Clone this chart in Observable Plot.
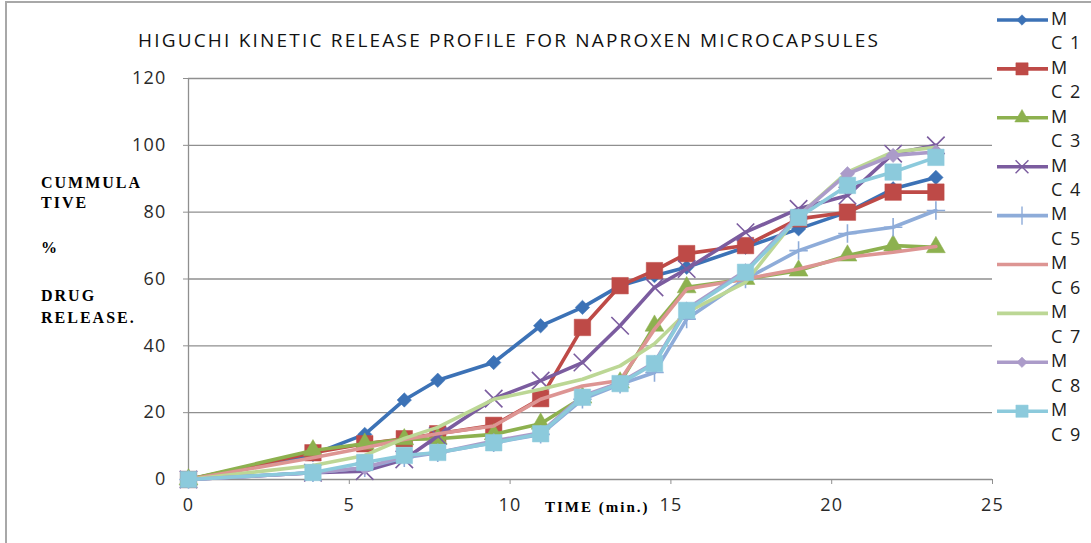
<!DOCTYPE html>
<html><head><meta charset="utf-8">
<script src="https://cdn.jsdelivr.net/npm/d3@7"></script>
<script src="https://cdn.jsdelivr.net/npm/@observablehq/plot@0.6"></script>
<style>
body{margin:0;background:#fff;}
#wrap{position:relative;width:1091px;height:543px;overflow:hidden;background:#fff;}
#frame{position:absolute;left:5px;top:1px;width:1200px;height:700px;border-left:2px solid #a8a8a8;border-top:2px solid #a8a8a8;pointer-events:none;}
#chart{position:absolute;left:0;top:0;}
</style></head><body>
<div id="wrap"><div id="chart"></div><div id="frame"></div></div>
<script>
// Square-root time points (x values)
const time = [0, 3.87, 5.48, 6.71, 7.75, 9.49, 10.95, 12.25, 13.42, 14.49, 15.49, 17.32, 18.97, 20.49, 21.91, 23.24];
const names = ["MC 1","MC 2","MC 3","MC 4","MC 5","MC 6","MC 7","MC 8","MC 9"];
const mc1 = [0, 7.5, 13.5, 23.8, 29.7, 35, 46, 51.5, 58, 61, 63.5, 69.5, 75, 80, 87, 90.4];
const mc2 = [0, 8, 10.7, 12.2, 13.7, 16.2, 24.2, 45.5, 58, 62.5, 67.6, 70, 78, 80, 86, 86];
const mc3 = [0, 8.7, 10.7, 12, 12.2, 13.5, 16.7, 24.5, 29, 46, 57.5, 60, 62.5, 67, 70, 69.5];
const mc4 = [0, 2, 2.5, 6, 13, 24.2, 29.6, 35, 46, 57.5, 63, 74, 81, 85, 97.5, 100];
const mc5 = [0, 2, 3.5, 6.5, 8, 11, 13.5, 24, 28.5, 32, 48, 60, 68.5, 73.6, 75.5, 80.5];
const mc6 = [0, 6.5, 9.5, 12, 13.7, 16, 24, 28, 29.6, 45, 57, 60, 63, 66.5, 68, 69.7];
const mc7 = [0, 4.2, 7.2, 12.3, 15.6, 24, 27, 30, 34, 40.6, 50, 59, 79, 92, 98, 99.4];
const mc8 = [0, 2, 3.5, 7, 8, 11.5, 14, 25, 29, 35, 51, 62.5, 79, 91.5, 97, 98];
const mc9 = [0, 2.1, 5.1, 7.2, 8.1, 11, 13.7, 24.6, 28.7, 34.7, 50.6, 62, 78.4, 88, 92, 96.4];
const xTicks = [0, 5, 10, 15, 20, 25];
const yTicks = [0, 20, 40, 60, 80, 100, 120];
const titleText = "HIGUCHI KINETIC RELEASE PROFILE FOR NAPROXEN MICROCAPSULES";
const yLabelLines = ["CUMMULA", "TIVE", "%", "DRUG", "RELEASE."];
const xLabel = "TIME (min.)";

const allSeries = [mc1, mc2, mc3, mc4, mc5, mc6, mc7, mc8, mc9];
const colors = ["#3c72b6", "#be4a47", "#8db14f", "#7b5c9f", "#8eacd9", "#dd9593", "#bcd795", "#ab9bc9", "#8ccadc"];
const symbols = ["diamond2", "square", "triangle", "times", "plus", null, null, "diamond2", "square"];
const radii = [6.5, 9.3, 7, 8, 6, 0, 0, 6.5, 9.3];

const rows = [];
allSeries.forEach((vals, i) => vals.forEach((v, j) => rows.push({series: names[i], idx: i, t: time[j], v})));

const W = 1091, H = 543;
const mL = 188, mR = 99, mT = 78, mB = 64;
const font = "'Open Sans', sans-serif";
const serif = "'Liberation Serif', 'Times New Roman', serif";

const marks = [
  Plot.ruleY(yTicks.filter(d => d > 0), {stroke: "#8f8f8f", strokeWidth: 1.3}),
  Plot.ruleY([0], {stroke: "#8f8f8f", strokeWidth: 1.3}),
  Plot.ruleX([0], {stroke: "#8f8f8f", strokeWidth: 1.3}),
  Plot.axisX(xTicks, {tickSize: 5, tickPadding: 14, fontSize: 18, stroke: "#8f8f8f", fill: "#2a2a2a", label: null}),
  Plot.axisY(yTicks, {tickSize: 5, tickPadding: 17, fontSize: 18, stroke: "#8f8f8f", fill: "#2a2a2a", label: null})
];
allSeries.forEach((vals, i) => {
  const data = rows.filter(r => r.idx === i);
  marks.push(Plot.line(data, {x: "t", y: "v", stroke: colors[i], strokeWidth: 3.6}));
  if (symbols[i]) {
    const stroked = symbols[i] === "times" || symbols[i] === "plus";
    marks.push(Plot.dot(data, stroked
      ? {x: "t", y: "v", symbol: symbols[i], r: radii[i], stroke: colors[i], strokeWidth: 1.6, fill: "none"}
      : {x: "t", y: "v", symbol: symbols[i], r: radii[i], fill: colors[i], stroke: colors[i], strokeWidth: 0.5}));
  }
});

const chart = Plot.plot({
  width: W, height: H,
  marginLeft: mL, marginRight: mR, marginTop: mT, marginBottom: mB,
  x: {domain: [0, 25], axis: null},
  y: {domain: [0, 120], axis: null},
  style: {fontFamily: font, background: "transparent", overflow: "visible", letterSpacing: "1.2px"},
  marks
});
document.getElementById("chart").appendChild(chart);

const svg = d3.select(chart);
// Title
svg.append("text").attr("x", 509).attr("y", 42).attr("text-anchor", "middle").attr("dominant-baseline", "middle")
  .attr("font-family", font).attr("font-size", 19).attr("letter-spacing", "2.2px").attr("fill", "#111").text(titleText);
// Y label
const yPos = [184, 204, 249, 297, 319];
yLabelLines.forEach((t, i) => svg.append("text").attr("x", 41).attr("y", yPos[i]).attr("text-anchor", "start").attr("dominant-baseline", "middle")
  .attr("font-family", serif).attr("font-weight", "bold").attr("font-size", 16).attr("letter-spacing", "2px").attr("fill", "#000").text(t));
// X label
svg.append("text").attr("x", 545).attr("y", 509).attr("text-anchor", "start").attr("dominant-baseline", "middle")
  .attr("font-family", serif).attr("font-weight", "bold").attr("font-size", 15).attr("letter-spacing", "2px").attr("fill", "#000").text(xLabel);

// Legend
const lg = svg.append("g");
names.forEach((n, i) => {
  const y = 20 + i * 48.9;
  const g = lg.append("g");
  g.append("line").attr("x1", 997).attr("x2", 1048).attr("y1", y).attr("y2", y).attr("stroke", colors[i]).attr("stroke-width", 3.6);
  if (symbols[i]) {
    const map = {diamond2: d3.symbolDiamond2, square: d3.symbolSquare, triangle: d3.symbolTriangle, times: d3.symbolTimes, plus: d3.symbolPlus};
    const sz = {diamond2: 70, square: 150, triangle: 90, times: 110, plus: 110}[symbols[i]];
    const stroked = symbols[i] === "times" || symbols[i] === "plus";
    g.append("path").attr("transform", `translate(1022,${y})`).attr("d", d3.symbol(map[symbols[i]], sz)())
      .attr("fill", stroked ? "none" : colors[i]).attr("stroke", colors[i]).attr("stroke-width", stroked ? 1.4 : 0.5);
  }
  const first = n.slice(0, 1);
  const rest = n.slice(1);
  g.append("text").attr("x", 1051).attr("y", y).attr("text-anchor", "start").attr("dominant-baseline", "middle").attr("font-family", font)
    .attr("font-size", 18).attr("letter-spacing", "1.5px").attr("fill", "#202020").text(first);
  g.append("text").attr("x", 1051).attr("y", y + 24.5).attr("text-anchor", "start").attr("dominant-baseline", "middle").attr("font-family", font)
    .attr("font-size", 18).attr("letter-spacing", "1.5px").attr("fill", "#202020").text(rest);
});
</script>
</body></html>
